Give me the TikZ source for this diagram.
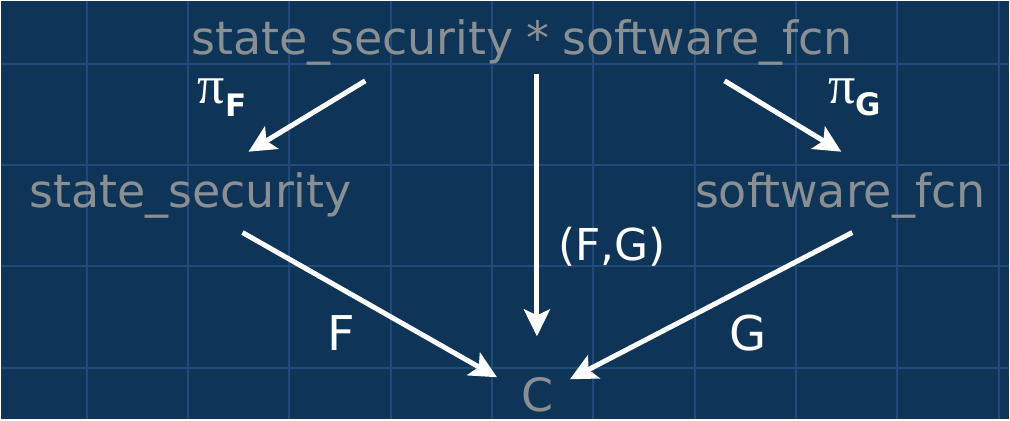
\documentclass[tikz,border=0pt]{standalone}
\usepackage{fontspec}
\setmainfont{DejaVu Sans}
\newfontfamily\greekserif{Liberation Serif}
\usetikzlibrary{arrows.meta}
\definecolor{boardbg}{HTML}{0E3558}
\definecolor{boardgrid}{HTML}{1F4A7A}
\definecolor{objtext}{HTML}{8A8F93}
\begin{document}
\begin{tikzpicture}[x=1pt,y=-1pt,
  obj/.style={text=objtext,font=\fontsize{46}{46}\selectfont,inner sep=0pt,anchor=base},
  lbl/.style={text=white,font=\fontsize{48}{48}\selectfont,inner sep=0pt,anchor=base},
  proj/.style={text=white,inner sep=0pt,anchor=base west},
  map/.style={draw=white,line width=5pt,-{Stealth[length=27pt,width=26pt,inset=6pt]}}]
  % background board with grid
  \fill[boardbg] (0,0) rectangle (1010,419);
  \foreach \gx in {86,187.5,...,1010} \draw[boardgrid,line width=2pt] (\gx,0) -- (\gx,419);
  \foreach \gy in {63,164.5,...,419} \draw[boardgrid,line width=2pt] (0,\gy) -- (1010,\gy);
  \useasboundingbox (0,0) rectangle (1010,419);
  % objects
  \node[obj] (prod) at (522,54) {state\_security\;*\;software\_fcn};
  \node[obj] (ss) at (190,207) {state\_security};
  \node[obj] (sf) at (841,207) {software\_fcn};
  \node[obj] (c) at (538,411) {C};
  % labels
  \node[proj] (pf) at (197,103) {{\greekserif\fontsize{54}{54}\selectfont π}\raisebox{-13pt}{\fontsize{31}{31}\selectfont\bfseries F}};
  \node[proj] (pg) at (829,103) {{\greekserif\fontsize{54}{54}\selectfont π}\raisebox{-12pt}{\fontsize{31}{31}\selectfont\bfseries G}};
  \node[lbl,font=\fontsize{44}{44}\selectfont] (fg) at (612,260) {(F,G)};
  \node[lbl] (f) at (341,350) {F};
  \node[lbl] (g) at (749,350) {G};
  % arrow end points
  \coordinate (a1s) at (365,80);  \coordinate (a1e) at (248,151);
  \coordinate (a2s) at (537,73);  \coordinate (a2e) at (537,336);
  \coordinate (a3s) at (725,80);  \coordinate (a3e) at (842,151);
  \coordinate (a4s) at (242,232); \coordinate (a4e) at (497,377);
  \coordinate (a5s) at (853,232); \coordinate (a5e) at (570,379);
  \draw[map] (a1s) -- (a1e);
  \draw[map] (a2s) -- (a2e);
  \draw[map] (a3s) -- (a3e);
  \draw[map] (a4s) -- (a4e);
  \draw[map] (a5s) -- (a5e);
\end{tikzpicture}
\end{document}
